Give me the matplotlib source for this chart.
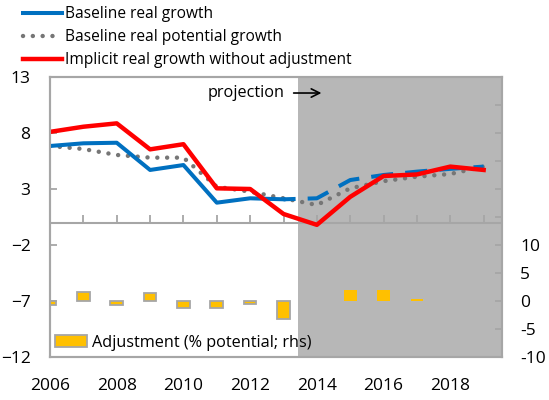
import matplotlib.pyplot as plt
from matplotlib.lines import Line2D
from matplotlib.patches import Patch

plt.rcParams['font.family'] = ['Open Sans', 'DejaVu Sans']

years = list(range(2006, 2020))
baseline = [6.84, 7.08, 7.13, 4.7, 5.14, 1.78, 2.17, 2.08, 2.17, 3.8, 4.25, 4.55, 4.8, 5.0]
potential = [6.84, 6.57, 6.04, 5.8, 5.8, 3.2, 2.76, 2.17, 1.57, 3.06, 3.7, 4.1, 4.34, 5.0]
implicit = [8.1, 8.56, 8.86, 6.54, 7.0, 3.06, 3.0, 0.77, -0.2, 2.3, 4.16, 4.3, 5.0, 4.7]
adjustment = [-0.8, 1.6, -0.8, 1.4, -1.2, -1.2, -0.5, -3.3, 0.0, 2.0, 1.9, 0.3, 0.0, 0.0]

last_actual = 2013
proj_start = 2013.42

blue = '#0070C0'
red = '#FF0000'
dotgray = '#767676'
frame = '#A6A6A6'
shade = '#B7B7B7'
gold = '#FFC000'

fig = plt.figure(figsize=(5.49, 4.0), dpi=100)
ax = fig.add_axes([0.0911, 0.1075, 0.8233, 0.70])
ax2 = ax.twinx()

ax.set_xlim(2006, 2019.55)
ax.set_ylim(-12, 13)
ax2.set_ylim(-10, 40)

ax.axvspan(proj_start, 2019.55, color=shade, lw=0, zorder=0)

# adjustment bars on the right-hand scale
edges = [frame if y < proj_start else 'none' for y in years]
ax2.bar(years, adjustment, width=0.38, color=gold, edgecolor=edges, linewidth=1.3, zorder=2)

# zero line with upward tick marks
ax.axhline(0, color=frame, lw=1.5, zorder=1)
ax.vlines(years[1:], 0, 0.65, color=frame, lw=1.3, zorder=1)

# growth lines on the left-hand scale
n = years.index(last_actual) + 1
ax.plot(years[:n], baseline[:n], color=blue, lw=2.9, zorder=4)
ax.plot(years[n - 1:], baseline[n - 1:], color=blue, lw=2.9,
        linestyle=(2.5, (5.5, 3)), zorder=4)
ax.plot(years, potential, color=dotgray, lw=3.2, linestyle=(0, (0.01, 2.2)),
        dash_capstyle='round', zorder=3)
ax.plot(years, implicit, color=red, lw=3.2, zorder=5)
ax2.patch.set_visible(False)

ax.text(2013.04, 11.57, 'projection', ha='right', va='center', fontsize=11.7)
ax.annotate('', xy=(2014.22, 11.57), xytext=(2013.22, 11.57),
            arrowprops=dict(arrowstyle='->', color='black', lw=1.2, mutation_scale=15))

ax.set_yticks([13, 8, 3, -2, -7, -12])
ax2.set_yticks(range(-10, 41, 5))
ax2.set_yticklabels(['-10', '-5', '0', '5', '10'] + [''] * 6)
ax.set_xticks(range(2006, 2020, 2))

ax.tick_params(axis='x', length=0, pad=15, labelsize=12.5)
ax.tick_params(axis='y', direction='in', length=5, width=1.3, color=frame, pad=14, labelsize=12.5)
ax2.tick_params(axis='y', direction='in', length=5, width=1.3, color=frame, pad=13, labelsize=12.5)

for a in (ax, ax2):
    for s in a.spines.values():
        s.set_color(frame)
        s.set_linewidth(1.5)

handles = [Line2D([], [], color=blue, lw=2.9),
           Line2D([], [], color=dotgray, lw=3.2, linestyle=(0, (0.01, 2.2)), dash_capstyle='round'),
           Line2D([], [], color=red, lw=3.2)]
labels = ['Baseline real growth', 'Baseline real potential growth',
          'Implicit real growth without adjustment']
fig.legend(handles, labels, loc='upper left', bbox_to_anchor=(0.042, 0.985),
           frameon=False, fontsize=11.2, handlelength=2.5, handletextpad=0.2,
           labelspacing=0.45, borderpad=0, borderaxespad=0)

ax2.legend([Patch(facecolor=gold, edgecolor=frame, linewidth=1.3)],
           ['Adjustment (% potential; rhs)'], loc='center left',
           bbox_to_anchor=(0.011, 0.05), frameon=False, fontsize=11.7,
           handlelength=2.0, handleheight=0.75, handletextpad=0.25,
           borderpad=0, borderaxespad=0)

fig.savefig('out.png', dpi=100)
